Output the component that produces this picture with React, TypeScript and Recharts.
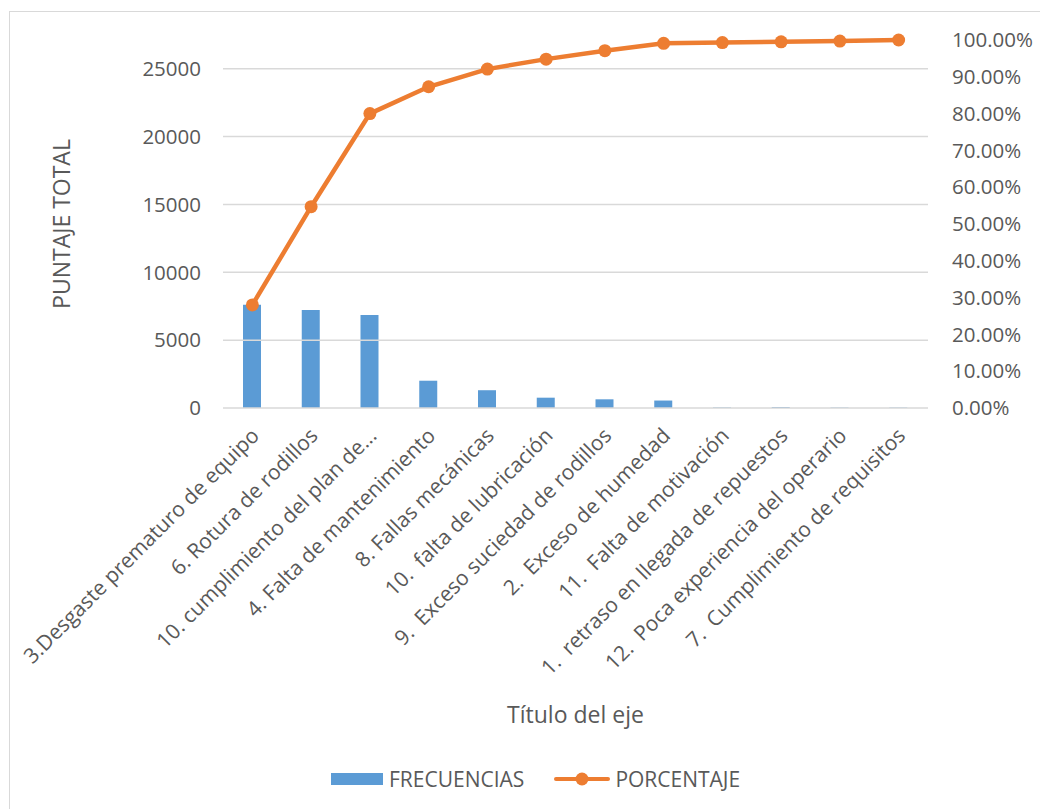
import { ComposedChart, Bar, Line, XAxis, YAxis, ReferenceLine } from 'recharts';

const causes = [
  '3.Desgaste prematuro de equipo',
  '6. Rotura de rodillos',
  '10. cumplimiento del plan de...',
  '4. Falta de mantenimiento',
  '8. Fallas mecánicas',
  '10.  falta de lubricación',
  '9.  Exceso suciedad de rodillos',
  '2.  Exceso de humedad',
  '11.  Falta de motivación',
  '1.  retraso en llegada de repuestos',
  '12.  Poca experiencia del operario',
  '7.  Cumplimiento de requisitos',
];

const frecuencias = [7600, 7220, 6850, 2010, 1310, 760, 640, 550, 40, 70, 30, 30];
const porcentaje = [28.0, 54.7, 80.0, 87.3, 92.1, 94.8, 97.1, 99.1, 99.3, 99.5, 99.7, 100];

const leftTicks = [0, 5000, 10000, 15000, 20000, 25000];
const rightTicks = [0, 10, 20, 30, 40, 50, 60, 70, 80, 90, 100];

const BLUE = '#5B9BD5';
const ORANGE = '#ED7D31';
const TEXT = '#595959';
const GRID = '#d9d9d9';
const FONT = '"Open Sans", sans-serif';

const data = causes.map((c, i) => ({ causa: c, frecuencia: frecuencias[i], porcentaje: porcentaje[i] }));
// pareto: the count axis tops out at the grand total so 100% lines up with it
const total = frecuencias.reduce((a, b) => a + b, 0);

function CauseTick({ x, y, payload }: { x?: number; y?: number; payload?: { value: string } }) {
  return (
    <text
      x={0}
      y={0}
      transform={`translate(${(x ?? 0) + 8},${(y ?? 0) + 27}) rotate(-45)`}
      textAnchor="end"
      fill={TEXT}
      fontSize={21}
      fontFamily={FONT}
      style={{ whiteSpace: 'pre' }}
    >
      {payload?.value}
    </text>
  );
}

export default function App() {
  return (
    <div style={{ position: 'absolute', left: 0, top: 0, width: 1040, height: 809, background: '#fff', overflow: 'hidden' }}>
      <div style={{ position: 'absolute', left: 9, top: 11, width: 1100, height: 900, border: `1.5px solid ${GRID}` }} />
      <ComposedChart
        width={1040}
        height={809}
        data={data}
        margin={{ top: 40, right: 0, left: 0, bottom: 0 }}
        style={{ position: 'absolute', left: 0, top: 0 }}
      >
        {/* horizontal grid only at the labelled count ticks */}
        {leftTicks.map((t) => (
          <ReferenceLine key={t} yAxisId="left" y={t} stroke={GRID} strokeWidth={1.5} />
        ))}
        <XAxis
          dataKey="causa"
          height={401}
          interval={0}
          tick={<CauseTick />}
          tickLine={false}
          axisLine={false}
          tickSize={0}
          label={{ value: 'Título del eje', position: 'insideBottom', offset: 86, fill: TEXT, fontSize: 23, fontFamily: FONT }}
        />
        <YAxis
          yAxisId="left"
          width={223}
          domain={[0, total]}
          ticks={leftTicks}
          tickLine={false}
          axisLine={false}
          tickSize={0}
          tickMargin={22}
          tick={{ fill: TEXT, fontSize: 20.5, fontFamily: FONT }}
          label={{ value: 'PUNTAJE TOTAL', angle: -90, position: 'center', dx: -50, fill: TEXT, fontSize: 23, fontFamily: FONT }}
        />
        <YAxis
          yAxisId="right"
          orientation="right"
          width={112}
          domain={[0, 100]}
          ticks={rightTicks}
          tickLine={false}
          axisLine={false}
          tickSize={0}
          tickMargin={24}
          tickFormatter={(v) => `${Number(v).toFixed(2)}%`}
          tick={{ fill: TEXT, fontSize: 20.5, fontFamily: FONT }}
        />
        <Bar yAxisId="left" dataKey="frecuencia" name="FRECUENCIAS" fill={BLUE} barSize={18} isAnimationActive={false} />
        <Line
          yAxisId="right"
          dataKey="porcentaje"
          name="PORCENTAJE"
          type="linear"
          stroke={ORANGE}
          strokeWidth={4.5}
          dot={{ r: 6.5, fill: ORANGE, stroke: ORANGE, strokeWidth: 0 }}
          isAnimationActive={false}
        />
      </ComposedChart>
      <div
        style={{
          position: 'absolute',
          top: 766,
          left: 331,
          display: 'flex',
          alignItems: 'center',
          height: 26,
          fontFamily: FONT,
          fontSize: 21,
          color: TEXT,
        }}
      >
        <span style={{ display: 'inline-block', width: 52, height: 12, background: BLUE, marginRight: 6 }} />
        <span>FRECUENCIAS</span>
        <svg width={56} height={20} style={{ marginLeft: 30, marginRight: 5 }}>
          <line x1={2} y1={10} x2={54} y2={10} stroke={ORANGE} strokeWidth={4} strokeLinecap="round" />
          <circle cx={28} cy={10} r={6.5} fill={ORANGE} />
        </svg>
        <span>PORCENTAJE</span>
      </div>
    </div>
  );
}
